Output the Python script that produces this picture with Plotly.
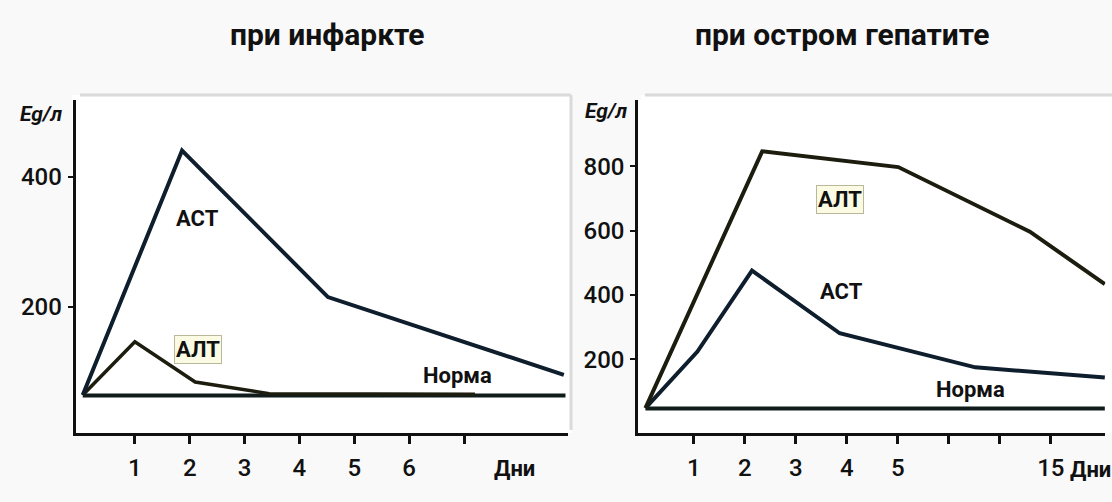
import plotly.graph_objects as go

# ---------------- data ----------------
# Left panel: при инфаркте (days)
inf_ast_x = [0.05, 1.86, 4.52, 8.82]
inf_ast_y = [64, 441, 215, 95]
inf_alt_x = [0.05, 1.0, 2.1, 3.45, 7.2]
inf_alt_y = [64, 146, 84, 66, 65]
inf_norm_x = [0.05, 8.85]
inf_norm_y = [63, 63]
inf_tickvals = [1, 2, 3, 4, 5, 6, 7]
inf_ticktext = ["1", "2", "3", "4", "5", "6", ""]
inf_ytickvals = [200, 400]

# Right panel: при остром гепатите (axis positions; last tick labelled 15)
hep_alt_x = [0.05, 2.34, 5.01, 7.59, 9.06]
hep_alt_y = [48, 847, 798, 597, 434]
hep_ast_x = [0.05, 1.07, 2.14, 3.86, 6.52, 9.06]
hep_ast_y = [48, 224, 476, 281, 175, 143]
hep_norm_x = [0.05, 9.06]
hep_norm_y = [47, 47]
hep_tickvals = [1, 2, 3, 4, 5, 6, 7, 8]
hep_ticktext = ["1", "2", "3", "4", "5", "", "", "15"]
hep_ytickvals = [200, 400, 600, 800]

titles = ["при инфаркте", "при остром гепатите"]
unit_label = "Eg/л"
days_label = "Дни"

# ---------------- style ----------------
FONT = "Roboto, Liberation Sans Narrow, sans-serif"
AST_C = "#0f1e2c"
ALT_C = "#1d1d0f"
NORM_C = "#0f1c1a"
AX_C = "#111111"
W, H = 1112, 502

fig = go.Figure()

def line(x, y, color, xa, ya, width=4):
    fig.add_trace(go.Scatter(x=x, y=y, mode="lines", xaxis=xa, yaxis=ya,
                             line=dict(color=color, width=width),
                             hoverinfo="skip", showlegend=False))

line(inf_norm_x, inf_norm_y, NORM_C, "x", "y")
line(inf_alt_x, inf_alt_y, ALT_C, "x", "y", 3.5)
line(inf_ast_x, inf_ast_y, AST_C, "x", "y")
line(hep_norm_x, hep_norm_y, NORM_C, "x2", "y2")
line(hep_ast_x, hep_ast_y, AST_C, "x2", "y2")
line(hep_alt_x, hep_alt_y, ALT_C, "x2", "y2")

axis_common = dict(showline=True, linecolor=AX_C, linewidth=3, showgrid=False,
                   zeroline=False, ticks="outside", tickcolor=AX_C,
                   tickfont=dict(family=FONT, size=24, color="#111", weight=500))

fig.update_layout(
    width=W, height=H,
    margin=dict(l=0, r=0, t=0, b=0),
    paper_bgcolor="#f9f9f9",
    plot_bgcolor="white",
    xaxis=dict(domain=[0.068, 0.511], range=[-0.08, 8.9], anchor="y",
               tickvals=inf_tickvals, ticktext=inf_ticktext,
               ticklen=8, tickwidth=3, ticklabelstandoff=3, **axis_common),
    yaxis=dict(domain=[0.137, 0.801], range=[5, 519], anchor="x",
               tickvals=inf_ytickvals, ticklen=5, tickwidth=2,
               ticklabelstandoff=1, **axis_common),
    xaxis2=dict(domain=[0.574, 0.994], range=[-0.09, 9.07], anchor="y2",
                tickvals=hep_tickvals, ticktext=hep_ticktext,
                ticklen=8, tickwidth=3, ticklabelstandoff=3, **axis_common),
    yaxis2=dict(domain=[0.137, 0.801], range=[-30, 1007], anchor="x2",
                tickvals=hep_ytickvals, ticklen=5, tickwidth=2,
                ticklabelstandoff=1, **axis_common),
)

def px(xp, yp):
    return xp / W, 1 - yp / H

# card frames (white with light gray top/right edges)
for x0, x1 in [(72, 572), (641, 1112)]:
    a, b = px(x0, 95)
    c, d = px(x1, 433)
    fig.add_shape(type="rect", xref="paper", yref="paper", x0=a, x1=c, y0=d, y1=b,
                  fillcolor="white", line=dict(width=0), layer="below")
for (x0, y0, x1, y1) in [(80, 95, 571, 95), (571, 95, 571, 430), (645, 95, 1112, 95)]:
    a, b = px(x0, y0)
    c, d = px(x1, y1)
    fig.add_shape(type="line", xref="paper", yref="paper", x0=a, y0=b, x1=c, y1=d,
                  line=dict(color="#dadada", width=3), layer="below")

def ann(text, x, y, xref="paper", yref="paper", size=22, **kw):
    fig.add_annotation(text=text, x=x, y=y, xref=xref, yref=yref, showarrow=False,
                       xanchor="center", yanchor="middle",
                       font=dict(family=FONT, size=size, color="#111"), **kw)

# titles
tx, ty = px(327, 35)
ann("<b>" + titles[0] + "</b>", tx, ty, size=30)
tx, ty = px(842, 35)
ann("<b>" + titles[1] + "</b>", tx, ty, size=30)

# unit labels
ux, uy = px(41, 114)
ann("<b><i>" + unit_label + "</i></b>", ux, uy, size=21)
ux, uy = px(606, 111)
ann("<b><i>" + unit_label + "</i></b>", ux, uy, size=21)

# series labels, left
ann("<b>АСТ</b>", 2.14, 336, "x", "y")
ann("<b>АЛТ</b>", 2.16, 134, "x", "y", bgcolor="#fbfbe4",
    bordercolor="#b9b99a", borderwidth=1, borderpad=1)
ann("<b>Норма</b>", 6.88, 94, "x", "y")
# series labels, right
ann("<b>АЛТ</b>", 3.87, 696, "x2", "y2", bgcolor="#fbfbe4",
    bordercolor="#b9b99a", borderwidth=1, borderpad=1)
ann("<b>АСТ</b>", 3.9, 411, "x2", "y2")
ann("<b>Норма</b>", 6.42, 105, "x2", "y2")

# "Дни" labels
dx, dy = px(514, 468)
ann("<b>" + days_label + "</b>", dx, dy)
dx, dy = px(1090, 469)
ann("<b>" + days_label + "</b>", dx, dy)

fig.write_html("out.html", config={"displayModeBar": False},
               post_script="document.body.style.margin='0';document.body.style.overflow='hidden';")
